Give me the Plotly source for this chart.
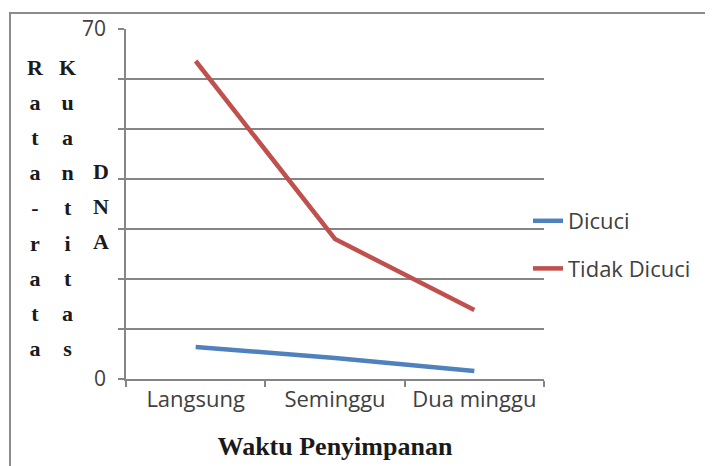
import plotly.graph_objects as go

categories = ["Langsung", "Seminggu", "Dua minggu"]
dicuci = [6.4, 4.2, 1.6]
tidak_dicuci = [63.6, 28.0, 13.8]
series_names = ["Dicuci", "Tidak Dicuci"]
y_tick_values = [0, 10, 20, 30, 40, 50, 60, 70]
y_tick_labels = ["0", "", "", "", "", "", "", "70"]
y_title_col1 = ["R", "a", "t", "a", "-", "r", "a", "t", "a"]
y_title_col2 = ["K", "u", "a", "n", "t", "i", "t", "a", "s"]
y_title_col3 = ["D", "N", "A"]
x_title = "Waktu Penyimpanan"

OFF = 8  # page body margin
W, H = 705, 458
L, T = 126 - OFF, 29 - OFF
pw, ph = 418, 350
R = W - L - pw
B = H - T - ph

def px_x(px):
    return (px - OFF - L) / pw

def px_y(py):
    return (T + ph - (py - OFF)) / ph

fig = go.Figure()
fig.add_trace(go.Scatter(x=categories, y=dicuci, mode="lines", name=series_names[0],
                         line=dict(color="#4F81BD", width=4.5), legendgroup="a"))
fig.add_trace(go.Scatter(x=categories, y=tidak_dicuci, mode="lines", name=series_names[1],
                         line=dict(color="#C0504D", width=4.5), legendgroup="b"))

grid_c = "#858585"
sans = "Open Sans, Liberation Sans, sans-serif"
serif = "Liberation Serif, Times New Roman, serif"

fig.update_layout(
    width=W, height=H,
    margin=dict(l=L, r=R, t=T, b=B, autoexpand=False),
    paper_bgcolor="white", plot_bgcolor="white",
    showlegend=True,
    legend=dict(x=px_x(528), y=px_y(200), xanchor="left", yanchor="top",
                font=dict(family=sans, size=22, color="#404040"),
                traceorder="grouped", tracegroupgap=16,
                bgcolor="rgba(0,0,0,0)"),
    xaxis=dict(type="category", range=[-0.5, 2.5], showline=True, linecolor=grid_c, linewidth=1.5,
               ticks="outside", tickson="boundaries", ticklen=6, tickcolor=grid_c, tickwidth=1.5,
               showgrid=False, automargin=False,
               tickfont=dict(family=sans, size=22, color="#404040"),
               title=dict(text="<b>" + x_title + "</b>", standoff=25,
                          font=dict(family=serif, size=26, color="#1a1a1a"))),
    yaxis=dict(range=[0, 70], tickvals=y_tick_values, ticktext=y_tick_labels,
               showline=True, linecolor=grid_c, linewidth=1.5,
               ticks="outside", ticklen=6, tickcolor=grid_c, tickwidth=1.5,
               showgrid=True, gridcolor=grid_c, gridwidth=1.5, zeroline=False,
               ticklabelstandoff=8, automargin=False,
               tickfont=dict(family=sans, size=21, color="#404040")),
)

def column(letters, xc, yc):
    txt = "<br>".join('<span style="font-size:22px">%s</span>' % c for c in letters)
    fig.add_annotation(text="<b>" + txt + "</b>", x=px_x(xc), y=px_y(yc), xref="paper", yref="paper",
                       xanchor="center", yanchor="middle", showarrow=False,
                       font=dict(family=serif, size=27, color="#1a1a1a"))

column(y_title_col1, 35, 208)
column(y_title_col2, 67, 208)
column(y_title_col3, 101, 206)

fig.add_shape(type="rect", xref="paper", yref="paper",
              x0=px_x(10), x1=px_x(760), y0=px_y(13), y1=px_y(500),
              line=dict(color="#8c8c8c", width=2), fillcolor="rgba(0,0,0,0)", layer="below")

fig.write_html("out.html")
